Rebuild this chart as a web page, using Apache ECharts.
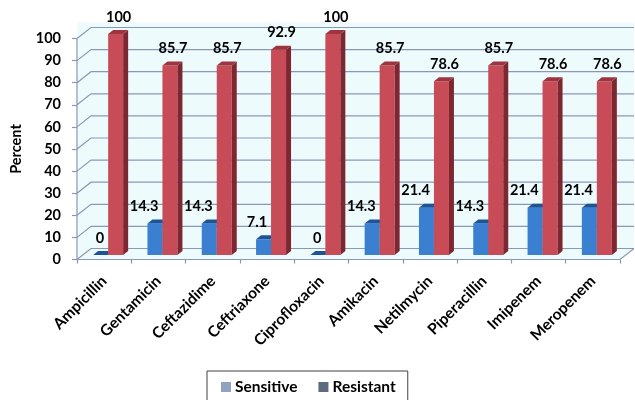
<!DOCTYPE html>
<html>
<head>
<meta charset="utf-8">
<script src="https://cdn.jsdelivr.net/npm/echarts@6/dist/echarts.min.js"></script>
<style>
  html, body { margin: 0; padding: 0; background: #ffffff; }
  #chart { width: 635px; height: 400px; }
</style>
</head>
<body>
<div id="chart"></div>
<script>
// Antibiotic susceptibility (percent of isolates)
const categories = ['Ampicillin', 'Gentamicin', 'Ceftazidime', 'Ceftriaxone', 'Ciprofloxacin',
                    'Amikacin', 'Netilmycin', 'Piperacillin', 'Imipenem', 'Meropenem'];
const sensitive = [0, 14.3, 14.3, 7.1, 0, 14.3, 21.4, 14.3, 21.4, 21.4];
const resistant = [100, 85.7, 85.7, 92.9, 100, 85.7, 78.6, 85.7, 78.6, 78.6];
const yTicks = [0, 10, 20, 30, 40, 50, 60, 70, 80, 90, 100];

// pseudo-3D geometry (pixels)
const DEPTH_X = 14, DEPTH_Y = 11;   // front plane -> back wall
const MID_X = 4, MID_Y = 4.5;       // front plane -> bar row
const BAR_W = 15, BAR_DX = 5, BAR_DY = 4;
const LINE = '#8b98b3';
const WALL = '#eefbfd';
const FONT = 'Lato';

function wallsItem(params, api) {
  const cs = params.coordSys;
  const x0 = cs.x, x1 = cs.x + cs.width, y0 = cs.y + cs.height;
  const yTop = api.coord([0, 100])[1] - DEPTH_Y - 5;
  const bx1 = x1 + DEPTH_X, by0 = y0 - DEPTH_Y;
  return {
    type: 'polygon',
    shape: { points: [[x0, y0], [x1, y0], [bx1, by0], [bx1, yTop], [x0, yTop]] },
    style: { fill: WALL }
  };
}

function gridItem(params, api) {
  const cs = params.coordSys;
  const x0 = cs.x, x1 = cs.x + cs.width, y0 = cs.y + cs.height;
  const v = api.value(1);
  const y = api.coord([0, v])[1];
  const lineStyle = { stroke: LINE, lineWidth: 1.2, fill: null };
  const children = [{
    type: 'polyline',
    shape: { points: [[x0, y], [x0 + DEPTH_X, y - DEPTH_Y], [x1 + DEPTH_X, y - DEPTH_Y]] },
    style: lineStyle
  }];
  if (v === 0) {
    const yMax = api.coord([0, 100])[1];
    children.push(
      { type: 'polyline', shape: { points: [[x0, yMax], [x0, y0], [x1, y0], [x1 + DEPTH_X, y0 - DEPTH_Y]] }, style: lineStyle }
    );
  }
  return { type: 'group', children: children };
}

function barItem(side, front, top, flank, labelAlign) {
  return function (params, api) {
    const idx = api.value(0), val = api.value(1);
    const base = api.coord([idx, 0]);
    const peak = api.coord([idx, val]);
    const cx = base[0] + MID_X;
    const xa = side < 0 ? cx - BAR_W : cx;
    const xb = xa + BAR_W;
    const yb = base[1] - MID_Y, yt = peak[1] - MID_Y;
    const children = [
      { type: 'rect', shape: { x: xa, y: yt, width: BAR_W, height: yb - yt }, style: { fill: front } },
      { type: 'polygon', shape: { points: [[xb, yt], [xb + BAR_DX, yt - BAR_DY], [xb + BAR_DX, yb - BAR_DY], [xb, yb]] }, style: { fill: flank } },
      { type: 'polygon', shape: { points: [[xa, yt], [xb, yt], [xb + BAR_DX, yt - BAR_DY], [xa + BAR_DX, yt - BAR_DY]] }, style: { fill: top } }
    ];
    const lx = labelAlign === 'right' ? xb - 4 : (xa + xb) / 2 + 3;
    children.push({
      type: 'text',
      style: {
        text: String(val), x: lx, y: yt - 17,
        align: labelAlign, verticalAlign: 'middle',
        font: 'bold 14.5px ' + FONT, fill: '#000000'
      }
    });
    return { type: 'group', children: children };
  };
}

const chart = echarts.init(document.getElementById('chart'), null, { renderer: 'canvas' });
chart.setOption({
  animation: false,
  backgroundColor: '#ffffff',
  grid: { left: 77, right: 15, top: 38.5, bottom: 140.5, containLabel: false },
  legend: {
    left: 207, top: 371,
    padding: [8, 12, 10, 14],
    itemGap: 21, itemWidth: 10, itemHeight: 10,
    icon: 'rect',
    borderColor: '#404040', borderWidth: 1,
    textStyle: { fontFamily: FONT, fontWeight: 'bold', fontSize: 15.5, color: '#000', padding: [0, 0, 0, -1] },
    data: [
      { name: 'Sensitive', itemStyle: { color: '#8fa2be' } },
      { name: 'Resistant', itemStyle: { color: '#5e6a7d' } }
    ]
  },
  xAxis: {
    type: 'category',
    data: categories,
    axisLine: { show: false },
    axisTick: { show: true, length: 4, lineStyle: { color: LINE, width: 1.2 } },
    axisLabel: {
      rotate: 45, margin: 19, interval: 0,
      fontFamily: FONT, fontWeight: 'bold', fontSize: 15.5, color: '#000'
    },
    splitLine: { show: false }
  },
  yAxis: {
    type: 'value',
    min: 0, max: 100, interval: 10,
    name: 'Percent', nameLocation: 'middle', nameRotate: 90, nameGap: 53,
    nameTextStyle: { fontFamily: FONT, fontWeight: 'bold', fontSize: 14.5, color: '#000' },
    axisLine: { show: false },
    axisTick: { show: true, length: 5, lineStyle: { color: LINE, width: 1.2 } },
    axisLabel: { margin: 16, fontFamily: FONT, fontWeight: 'bold', fontSize: 14.5, color: '#000' },
    splitLine: { show: false }
  },
  series: [
    { type: 'custom', name: 'walls', silent: true, z: 0, data: [[0, 0]], renderItem: wallsItem },
    { type: 'custom', name: 'gridlines', silent: true, z: 1, data: yTicks.map(v => [0, v]), renderItem: gridItem },
    { type: 'custom', name: 'Sensitive', z: 2, encode: { x: 0, y: 1 },
      itemStyle: { color: '#3b7fd0' },
      data: sensitive.map((v, i) => [i, v]),
      renderItem: barItem(-1, '#3b7fd0', '#1c5498', '#255fa8', 'right') },
    { type: 'custom', name: 'Resistant', z: 3, encode: { x: 0, y: 1 },
      itemStyle: { color: '#c84c57' },
      data: resistant.map((v, i) => [i, v]),
      renderItem: barItem(1, '#c84c57', '#9c3540', '#7f2731', 'center') }
  ]
});
</script>
</body>
</html>
